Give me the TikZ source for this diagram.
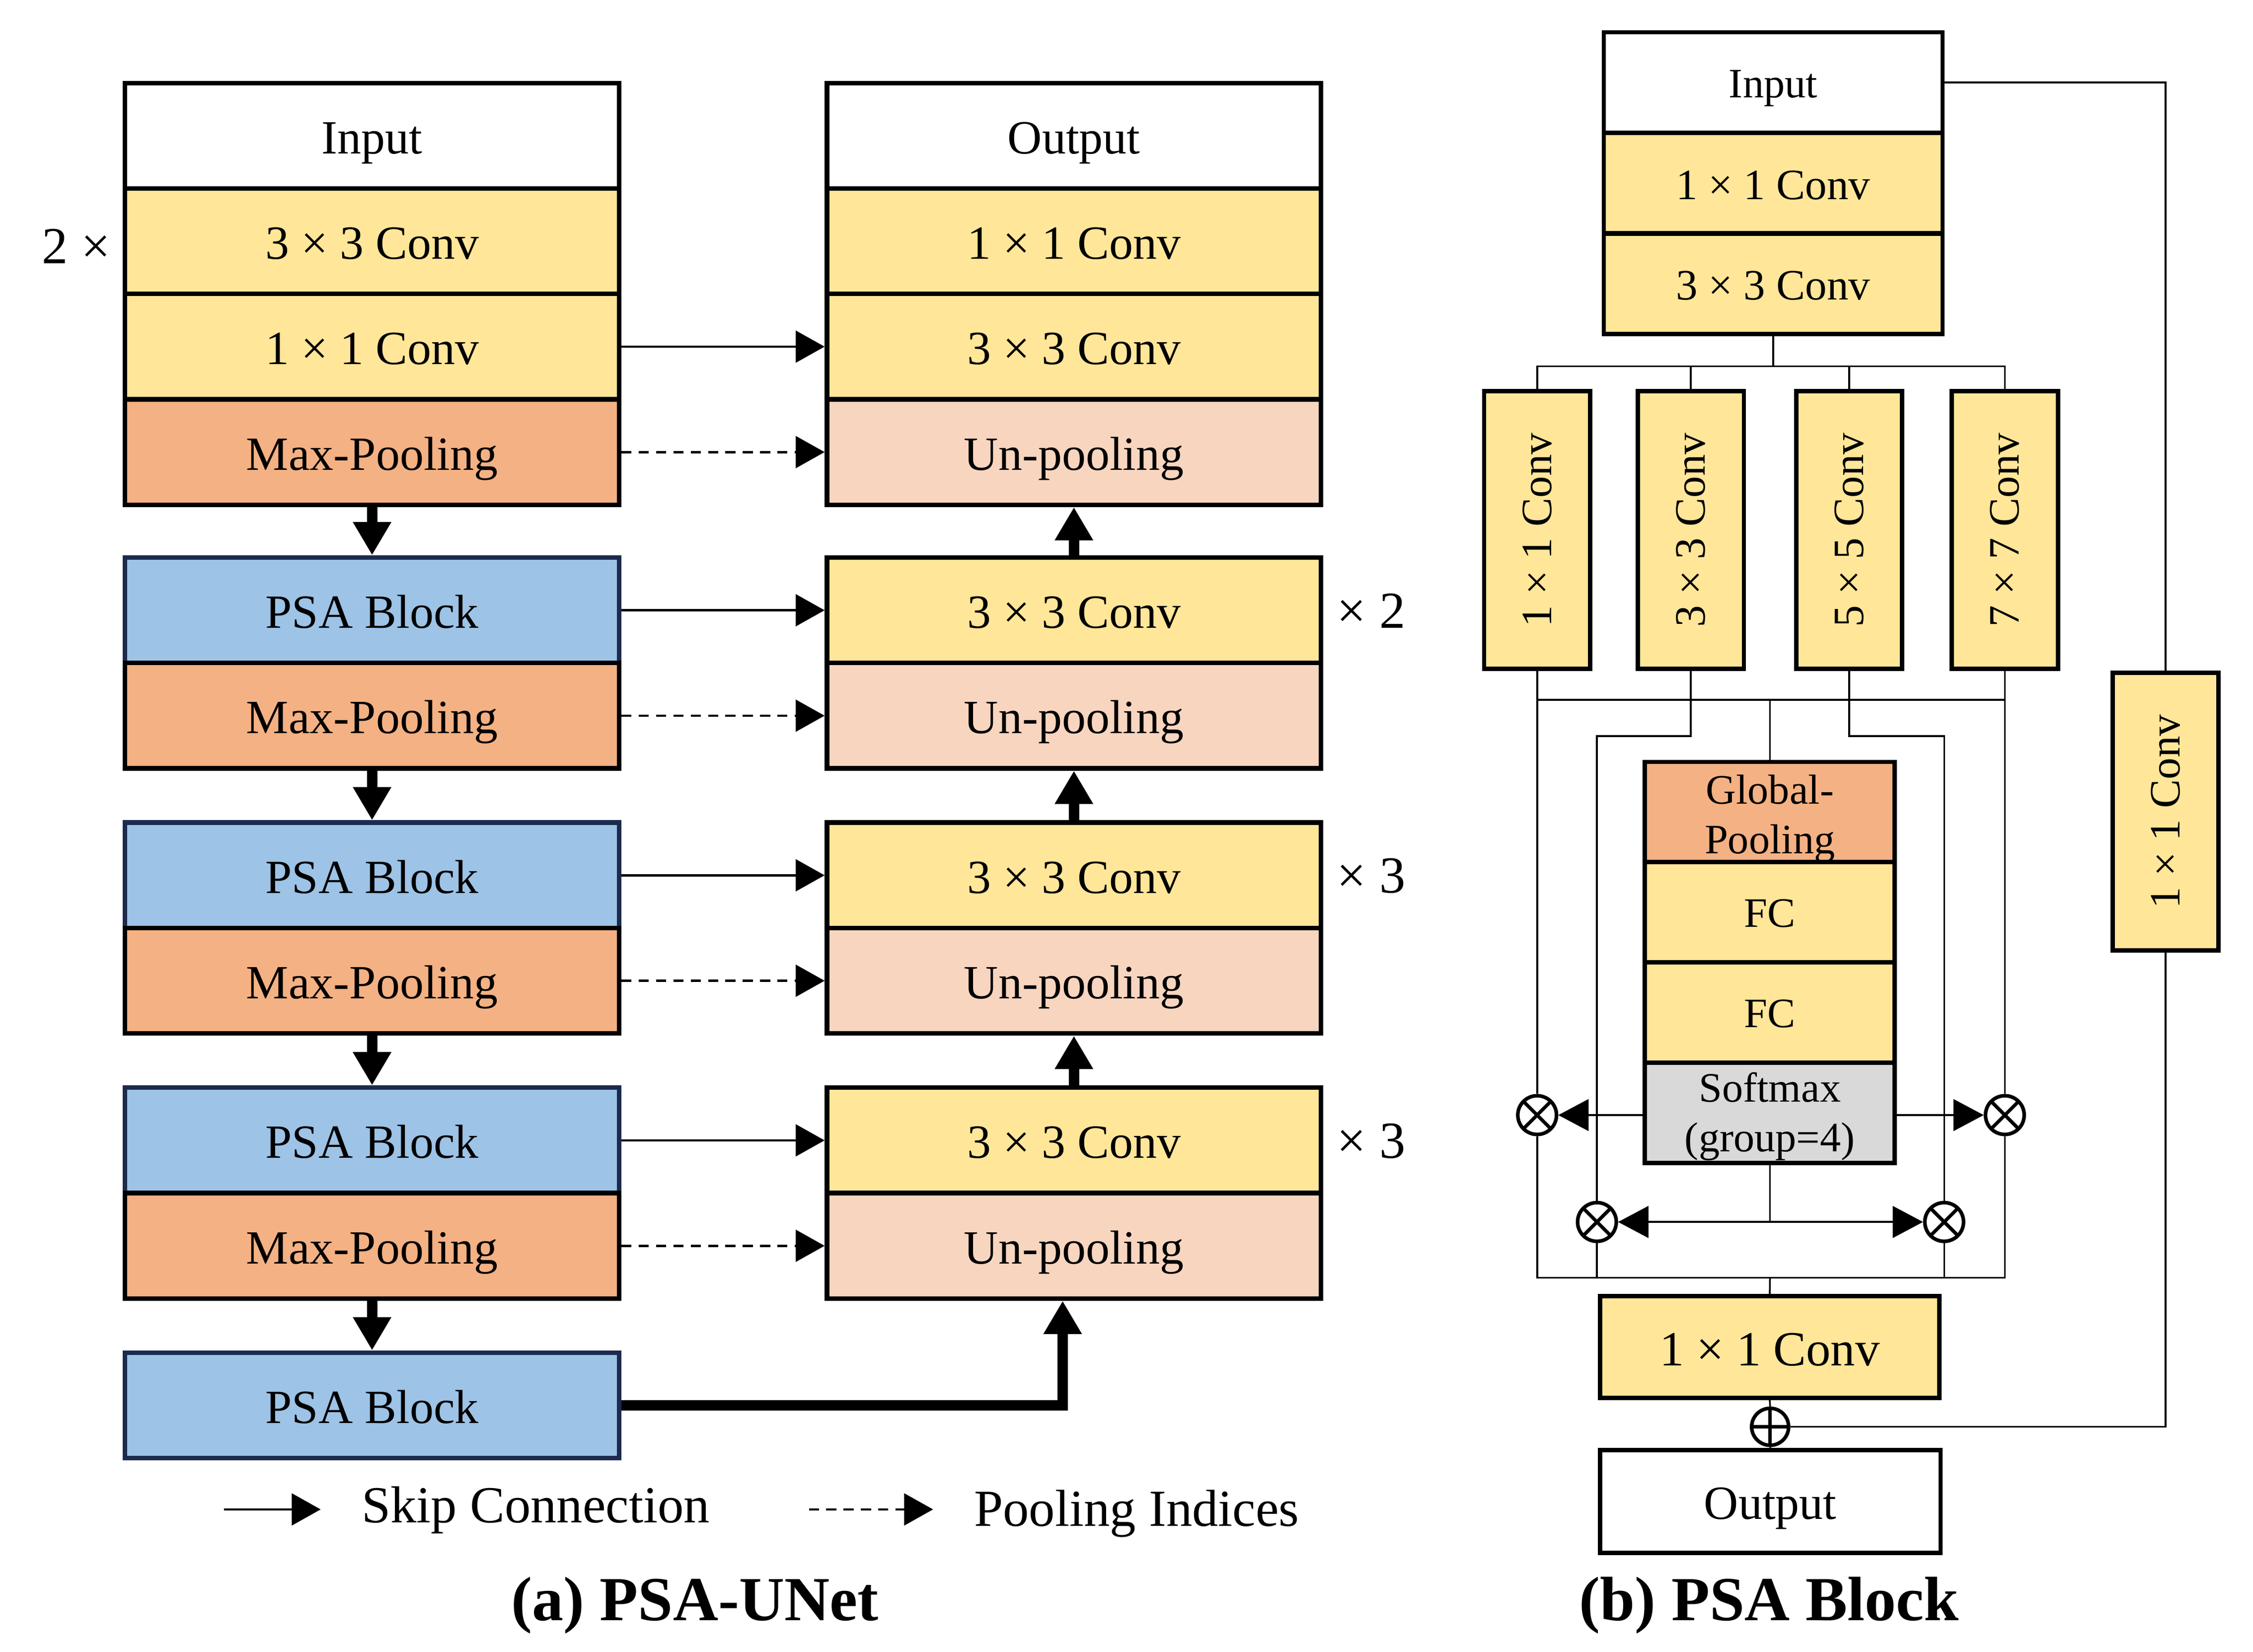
\documentclass[tikz,border=0pt]{standalone}
\usepackage{fontspec}
\setmainfont{Liberation Serif}
\usetikzlibrary{arrows.meta}
\definecolor{cYel}{HTML}{FFE699}
\definecolor{cOra}{HTML}{F4B183}
\definecolor{cUnp}{HTML}{F8D5BF}
\definecolor{cBlu}{HTML}{9DC3E6}
\definecolor{cNav}{HTML}{1B2B4E}
\definecolor{cGry}{HTML}{D9D9D9}
\begin{document}
\begin{tikzpicture}[x=0.5pt,y=-0.5pt,
  lbox/.style={draw, line width=1.6pt, minimum width=171pt, minimum height=36.5pt, inner sep=0pt,
     text height=12.4pt, text depth=0pt, font=\fontsize{16.5}{20}\selectfont},
  yel/.style={fill=cYel}, ora/.style={fill=cOra}, unp/.style={fill=cUnp},
  psa/.style={fill=cBlu, draw=cNav}, wht/.style={fill=white}, gry/.style={fill=cGry},
  skiparrow/.style={line width=0.8pt, -{Triangle[length=10pt,width=11pt]}},
  poolarrow/.style={skiparrow, dash pattern=on 3.5pt off 2.5pt},
  flow/.style={line width=3.6pt, -{Triangle[length=11.5pt,width=12.5pt]}},
  rep/.style={inner sep=0pt, text height=12.2pt, text depth=0pt, font=\fontsize{18}{22}\selectfont},
  legtext/.style={anchor=base west, inner sep=0pt, font=\fontsize{18}{22}\selectfont},
  captext/.style={anchor=base, inner sep=0pt, font=\bfseries\fontsize{21.7}{26}\selectfont},
  pbox/.style={draw, line width=1.5pt, inner sep=0pt, text height=11.1pt, text depth=0pt,
     font=\fontsize{15}{18}\selectfont},
  vbox/.style={draw, line width=1.5pt, inner sep=0pt, fill=cYel, minimum width=36.7pt,
     minimum height=96.2pt, font=\fontsize{15}{18}\selectfont},
  gbox/.style={draw, line width=1.5pt, inner sep=0pt, minimum width=86.5pt, minimum height=34.7pt,
     text height=10.4pt, text depth=0pt, font=\fontsize{14.5}{17.3}\selectfont},
  gtext/.style={inner sep=0pt, align=center, font=\fontsize{14.5}{17.3}\selectfont},
  pline/.style={line width=0.6pt},
  parrow/.style={pline, -{Triangle[length=10.5pt,width=11pt]}},
  pdarrow/.style={pline, {Triangle[length=10.5pt,width=11pt]}-{Triangle[length=10.5pt,width=11pt]}},
  mul/.style={circle, draw, line width=1.25pt, minimum size=13.4pt, inner sep=0pt, fill=white,
     path picture={\draw[line width=1.2pt]
       (path picture bounding box.north west) -- (path picture bounding box.south east)
       (path picture bounding box.north east) -- (path picture bounding box.south west);}},
  addn/.style={circle, draw, line width=1.25pt, minimum size=12.8pt, inner sep=0pt, fill=white,
     path picture={\draw[line width=1.2pt]
       (path picture bounding box.north) -- (path picture bounding box.south)
       (path picture bounding box.east) -- (path picture bounding box.west);}}
]
\useasboundingbox (0,0) rectangle (1559.8,1143.4);

% ---------------- (a) PSA-UNet : encoder ----------------
\node[lbox,wht] (Lin)   at (257.6,94)    {Input};
\node[lbox,yel] (Lc3)   at (257.6,167)   {3 × 3 Conv};
\node[lbox,yel] (Lc1)   at (257.6,240)   {1 × 1 Conv};
\node[lbox,ora] (Lmp0)  at (257.6,313)   {Max-Pooling};
\node[lbox,psa] (Lpsa1) at (257.6,422.5) {PSA Block};
\node[lbox,ora] (Lmp1)  at (257.6,495.5) {Max-Pooling};
\node[lbox,psa] (Lpsa2) at (257.6,606)   {PSA Block};
\node[lbox,ora] (Lmp2)  at (257.6,679)   {Max-Pooling};
\node[lbox,psa] (Lpsa3) at (257.6,789.5) {PSA Block};
\node[lbox,ora] (Lmp3)  at (257.6,862.5) {Max-Pooling};
\node[lbox,psa] (Lpsa4) at (257.6,973)   {PSA Block};

% ---------------- decoder ----------------
\node[lbox,wht] (Rout) at (743.5,94)    {Output};
\node[lbox,yel] (Rc1)  at (743.5,167)   {1 × 1 Conv};
\node[lbox,yel] (Rc3)  at (743.5,240)   {3 × 3 Conv};
\node[lbox,unp] (Rup0) at (743.5,313)   {Un-pooling};
\node[lbox,yel] (Rc3a) at (743.5,422.5) {3 × 3 Conv};
\node[lbox,unp] (Rup1) at (743.5,495.5) {Un-pooling};
\node[lbox,yel] (Rc3b) at (743.5,606)   {3 × 3 Conv};
\node[lbox,unp] (Rup2) at (743.5,679)   {Un-pooling};
\node[lbox,yel] (Rc3c) at (743.5,789.5) {3 × 3 Conv};
\node[lbox,unp] (Rup3) at (743.5,862.5) {Un-pooling};

% repetition labels
\node[rep] (rep0) at (52.8,170.3)  {2 ×};
\node[rep] (rep1) at (949.3,422.5) {× 2};
\node[rep] (rep2) at (949.3,606)   {× 3};
\node[rep] (rep3) at (949.3,789.5) {× 3};

% skip connections and pooling indices
\draw[skiparrow] (Lc1.east)   -- (Rc3.west);
\draw[skiparrow] (Lpsa1.east) -- (Rc3a.west);
\draw[skiparrow] (Lpsa2.east) -- (Rc3b.west);
\draw[skiparrow] (Lpsa3.east) -- (Rc3c.west);
\draw[poolarrow] (Lmp0.east) -- (Rup0.west);
\draw[poolarrow] (Lmp1.east) -- (Rup1.west);
\draw[poolarrow] (Lmp2.east) -- (Rup2.west);
\draw[poolarrow] (Lmp3.east) -- (Rup3.west);

% main flow
\draw[flow] (Lmp0.south) -- (Lpsa1.north);
\draw[flow] (Lmp1.south) -- (Lpsa2.north);
\draw[flow] (Lmp2.south) -- (Lpsa3.north);
\draw[flow] (Lmp3.south) -- (Lpsa4.north);
\draw[flow] (Rc3a.north) -- (Rup0.south);
\draw[flow] (Rc3b.north) -- (Rup1.south);
\draw[flow] (Rc3c.north) -- (Rup2.south);
\draw[flow] (Lpsa4.east) -| ([xshift=-3.9pt]Rup3.south);

% legend
\coordinate (lgA) at (155,1045);
\coordinate (lgB) at (222,1045);
\coordinate (lgC) at (560,1045);
\coordinate (lgD) at (646,1045);
\draw[skiparrow] (lgA) -- (lgB);
\draw[poolarrow] (lgC) -- (lgD);
\node[legtext] (lgT1) at (250,1054)   {Skip Connection};
\node[legtext] (lgT2) at (674,1056.6) {Pooling Indices};

\node[captext] (capA) at (481,1122)    {(a) PSA-UNet};
\node[captext] (capB) at (1224.7,1122) {(b) PSA Block};

% ---------------- (b) PSA Block ----------------
\node[pbox,wht,minimum width=117.25pt,minimum height=34.7pt,text height=10.6pt,font=\fontsize{14.5}{17}\selectfont] (Pin) at (1227.6,57.1) {Input};
\node[pbox,yel,minimum width=117.25pt,minimum height=34.7pt] (Pc1) at (1227.6,126.8) {1 × 1 Conv};
\node[pbox,yel,minimum width=117.25pt,minimum height=34.7pt] (Pc3) at (1227.6,196.6) {3 × 3 Conv};

\node[vbox] (b1) at (1064.2,366.9) {\rotatebox{90}{1 × 1 Conv}};
\node[vbox] (b2) at (1170.6,366.9) {\rotatebox{90}{3 × 3 Conv}};
\node[vbox] (b3) at (1280.2,366.9) {\rotatebox{90}{5 × 5 Conv}};
\node[vbox] (b4) at (1388,366.9)   {\rotatebox{90}{7 × 7 Conv}};
\node[vbox] (V)  at (1499.3,561.9) {\rotatebox{90}{1 × 1 Conv}};

\node[gbox,ora] (GP)  at (1225.3,562.2) {};
\node[gbox,yel] (FC1) at (1225.3,631.6) {FC};
\node[gbox,yel] (FC2) at (1225.3,701.0) {FC};
\node[gbox,gry] (SM)  at (1225.3,770.4) {};
\node[gtext] (GPt) at ([yshift=-2.3pt]GP.center) {Global-\\Pooling};
\node[gtext] (SMt) at ([yshift=-1.3pt]SM.center) {Softmax\\(group=4)};

\node[mul] (m1) at (1064.2,772) {};
\node[mul] (m4) at (1388,772)   {};
\node[mul] (m2) at (1105.6,846) {};
\node[mul] (m3) at (1346,846)   {};

\node[pbox,yel,minimum width=117.5pt,minimum height=35.3pt,text height=12.8pt,font=\fontsize{17}{20}\selectfont] (Pc1b) at (1225.25,932.6) {1 × 1 Conv};
\node[addn] (pl) at (1225.5,987.8) {};
\node[pbox,wht,minimum width=117.9pt,minimum height=35.5pt,text height=12.2pt,font=\fontsize{16.5}{20}\selectfont] (Pout) at (1225.6,1039.5) {Output};

% connectors
\coordinate (busT) at (1227.6,253.6);
\coordinate (busM) at (1225.3,484.5);
\coordinate (turnY) at (0,509.7);
\coordinate (busB) at (1225.4,884.6);

\draw[pline] (Pc3.south) -- (busT);
\draw[pline] (b1.north) |- (busT) -| (b4.north);
\draw[pline] (b2.north) -- (b2.north |- busT);
\draw[pline] (b3.north) -- (b3.north |- busT);

\draw[pline] (b1.south) -- (m1.north);
\draw[pline] (b4.south) -- (m4.north);
\draw[pline] (b1.south |- busM) -- (b4.south |- busM);
\draw[pline] (busM) -- (GP.north);
\draw[pline] (b2.south) |- (m2.north |- turnY) -- (m2.north);
\draw[pline] (b3.south) |- (m3.north |- turnY) -- (m3.north);

\draw[parrow] (SM.west |- m1) -- (m1.east);
\draw[parrow] (SM.east |- m4) -- (m4.west);
\draw[pline] (SM.south) -- (SM.south |- m2);
\draw[pdarrow] (m2.east) -- (m3.west);

\draw[pline] (m1.south) |- (busB) -| (m4.south);
\draw[pline] (m2.south) -- (m2.south |- busB);
\draw[pline] (m3.south) -- (m3.south |- busB);
\draw[pline] (busB) -- (Pc1b.north);
\draw[pline] (Pc1b.south) -- (pl.north);
\draw[pline] (pl.south) -- (Pout.north);

\draw[pline] (Pin.east) -| (V.north);
\draw[pline] (V.south) |- (pl.east);
\end{tikzpicture}
\end{document}
